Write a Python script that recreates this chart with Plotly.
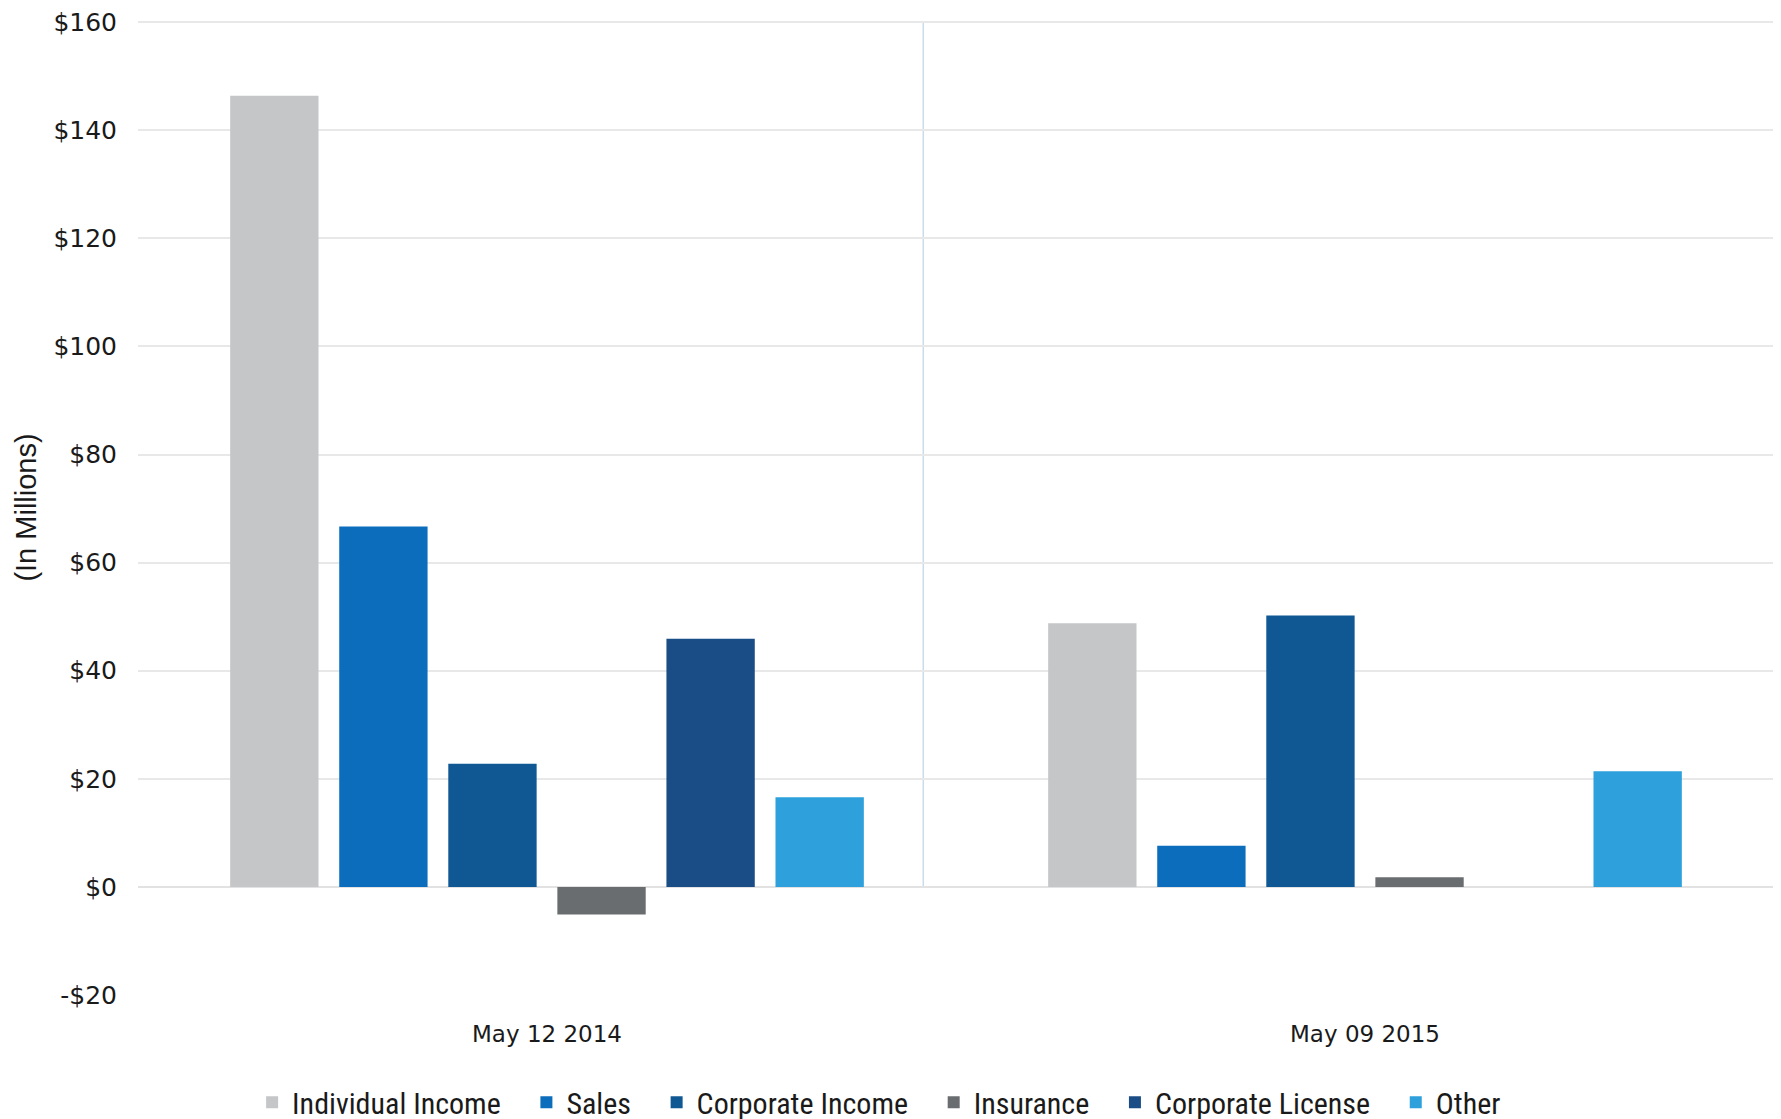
import plotly.graph_objects as go

categories = ["May 12 2014", "May 09 2015"]
series_names = ["Individual Income", "Sales", "Corporate Income", "Insurance", "Corporate License", "Other"]
individual_income = [146.4, 48.8]
sales = [66.7, 7.6]
corporate_income = [22.8, 50.2]
insurance = [-5.1, 1.8]
corporate_license = [45.9, 0]
other = [16.6, 21.4]
y_tick_vals = [-20, 0, 20, 40, 60, 80, 100, 120, 140, 160]
y_tick_text = ["-$20", "$0", "$20", "$40", "$60", "$80", "$100", "$120", "$140", "$160"]

series_values = [individual_income, sales, corporate_income, insurance, corporate_license, other]
colors = ["#C4C6C8", "#0B6DBB", "#0F5894", "#6A6D6F", "#1A4C86", "#2EA0DC"]

PAD = "\u00a0\u00a0\u00a0"

fig = go.Figure()
for i, (name, vals, col) in enumerate(zip(series_names, series_values, colors)):
    label = name + (PAD if i < len(series_names) - 1 else "")
    fig.add_trace(go.Bar(name=label, x=categories, y=vals, marker=dict(color=col, line=dict(width=0))))

fig.add_shape(type="line", xref="x", yref="y", x0=0.46, x1=0.46, y0=0, y1=160,
              line=dict(color="#C9DCEA", width=1.5), layer="below")

fig.update_layout(
    width=1781, height=1119,
    paper_bgcolor="white", plot_bgcolor="white",
    barmode="group", bargap=0.2, bargroupgap=0.19,
    margin=dict(l=130, r=15, t=12, b=132, autoexpand=False),
    font=dict(family="DejaVu Sans", color="#1a1a1a"),
    showlegend=True,
    legend=dict(orientation="h", x=0.453, xanchor="center", y=-0.110, yanchor="middle",
                font=dict(family="Liberation Sans Narrow, Arial Narrow, Roboto Condensed, sans-serif", size=30, color="#1a1a1a"),
                itemwidth=30, tracegroupgap=0, traceorder="normal"),
    xaxis=dict(showgrid=False, showline=False, ticks="outside", ticklen=18, tickcolor="white",
               automargin=False,
               tickfont=dict(family="DejaVu Sans", size=23, color="#1a1a1a")),
    yaxis=dict(range=[-20, 160.4], tickvals=y_tick_vals, ticktext=y_tick_text,
               showgrid=True, gridcolor="#E8E8E8", gridwidth=1.5,
               zeroline=True, zerolinecolor="#E2E2E2", zerolinewidth=1.5,
               showline=False, ticklabelstandoff=20, automargin=False,
               ticklabeloverflow="allow",
               tickfont=dict(family="DejaVu Sans", size=25, color="#1a1a1a"),
               title=dict(text="(In Millions)", standoff=8,
                          font=dict(family="Liberation Sans Narrow, Arial Narrow, sans-serif", size=29, color="#1a1a1a"))),
)

fig.write_html("out.html")
